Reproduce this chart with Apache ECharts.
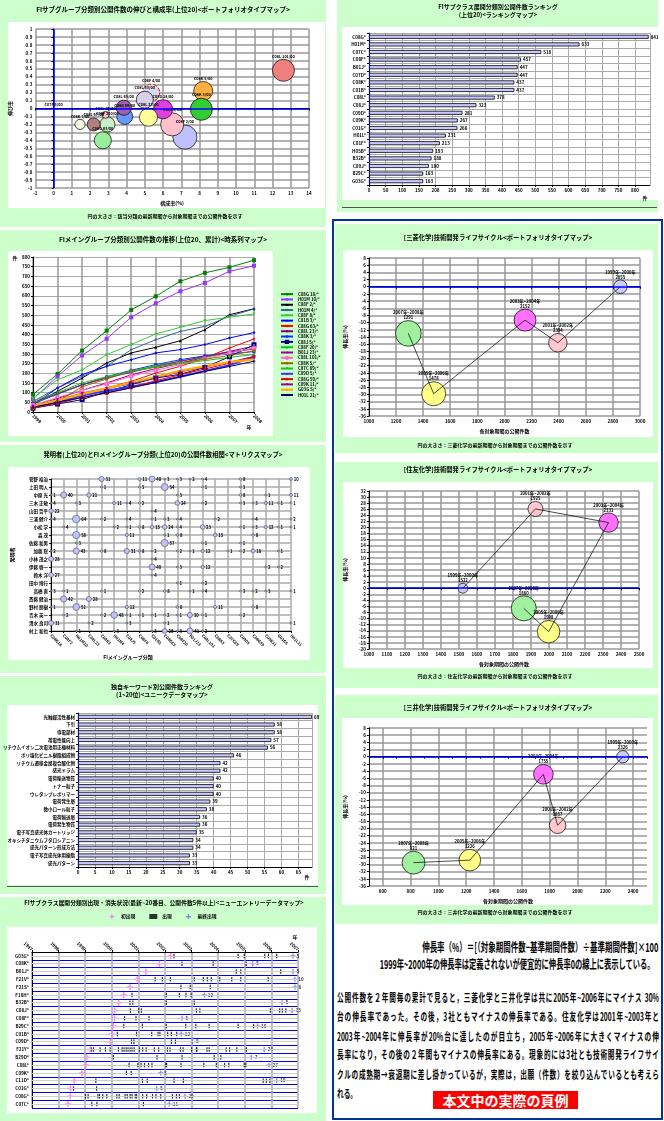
<!DOCTYPE html>
<html><head><meta charset="utf-8">
<script src="https://cdn.jsdelivr.net/npm/echarts@6/dist/echarts.min.js"></script>
<style>
body{margin:0;width:664px;height:1121px;position:relative;background:#fff;overflow:hidden;font-family:"Noto Sans CJK JP",sans-serif;}
.p{position:absolute;background:#ccffcc;}
.w{position:absolute;background:#fff;}
.c{position:absolute;}
.ln{position:absolute;white-space:nowrap;color:#000;}
</style></head><body>
<div style="position:absolute;left:332px;top:219px;width:327px;height:897px;border:2px solid #0033a0;"></div>
<div class="ln" style="right:6px;top:938px;font-size:11px;font-weight:bold;transform-origin:right center;transform:scale(0.68,1.1);">伸長率（%）＝[（対象期間件数−基準期間件数）÷基準期間件数]×100</div>
<div class="ln" style="right:9px;top:955px;font-size:11px;font-weight:bold;transform-origin:right center;transform:scale(0.66,1.1);">1999年~2000年の伸長率は定義されないが便宜的に伸長率0の線上に表示している。</div>
<div id="para" style="position:absolute;left:337px;top:988px;width:460px;font-size:9.5px;font-weight:bold;line-height:16.8px;transform-origin:left top;transform:scale(0.7,1.15);"></div>
<div style="position:absolute;left:433px;top:1091px;width:145px;height:18px;background:#ff0000;color:#fff;font-size:14px;font-weight:bold;line-height:18px;text-align:center;">本文中の実際の頁例</div>
<script>
const F='"Noto Sans CJK JP","Noto Sans",sans-serif';

// ---------- data ----------
const p1Names=["C08L 101/00","C08K 5/00","C08K 3/00","C08F 2/00","C08J 5/00","C08G 18/00","C08L 23/00","C08F 4/00","C08L 33/00","C08G 59/00","C08L 63/00","C08F 220/00","C08G 63/00","C08L 67/00","C08K 7/00","C08L 75/00","C07F 5/00"];
const p1X=[12.6,8.2,8.1,7.2,6.5,6.0,5.2,5.35,5.0,3.9,3.85,2.95,2.7,2.2,1.45,2.85,0.0];
const p1Y=[0.48,0.22,-0.01,-0.36,-0.2,-0.01,-0.11,0.2,0.11,-0.1,0.01,-0.2,-0.4,-0.2,-0.2,-0.08,0.0];
const p1Count=[400,300,400,480,440,300,270,240,240,210,190,190,240,140,85,40,3];
const p1Colors=['#f08080','#ffb040','#33cc33','#c0c0ff','#ffc0cc','#e040e0','#ffff99','#d8d8f0','#d8d0e8','#6699ff','#a060b0','#c8f0c8','#99ee99','#b08080','#f8f8e0','#ffc0d0','#ffffff'];

const r1Cats=["C08G*","H01M*","C07C*","C08F*","B01J*","C07D*","C08K*","C01B*","C08L*","C08J*","C09D*","C09K*","C01G*","H01L*","C01F*","H05B*","B32B*","C09J*","B29C*","G03G*"];
const r1Vals=[841,633,518,457,447,447,437,437,378,323,281,267,266,231,213,193,188,180,163,163];

const p2Years=["1999","2000","2001","2002","2003","2004","2005","2006","2007","2008"];
const p2Names=["C08G 18/*","H01M 10/*","C08F 2/*","H01M 4/*","C08F 8/*","C01B 3/*","C08G 63/*","C08L 23/*","C08K 3/*","C08J 5/*","C08F 20/*","B01J 23/*","C08L 101/*","C08K 5/*","C07C 69/*","C09D 5/*","C08G 59/*","C09K 11/*","G03G 5/*","H01L 21/*"];
const p2Vals=[
[90,196,317,420,527,597,675,718,747,783],
[67,184,292,378,489,561,623,666,726,755],
[38,107,175,253,305,334,368,425,502,533],
[55,124,184,236,322,373,416,442,494,532],
[72,167,217,296,348,403,437,472,489,506],
[38,124,193,236,270,305,322,348,382,410],
[29,58,98,124,158,201,236,279,330,377],
[32,70,112,150,192,224,252,283,313,340],
[42,92,140,182,215,245,270,290,300,312],
[20,41,64,105,141,175,195,230,285,347],
[45,95,140,180,210,240,262,283,305,330],
[50,95,140,175,205,235,262,288,310,325],
[35,75,112,145,185,215,245,275,305,330],
[18,55,130,170,212,232,255,272,292,316],
[58,100,150,182,210,232,250,265,282,297],
[25,50,85,110,130,155,182,212,242,283],
[20,45,75,97,125,162,192,222,252,287],
[30,65,95,120,147,177,207,232,257,287],
[30,60,92,122,152,182,212,237,257,272],
[25,50,75,100,125,152,182,210,235,262]];

const p3Rows=["菅野 裕治","上田 明人","中原 光","三木 正敏","山田 哲平","三浦 健介","小松 学","森 茂","佐藤 和男","加藤 聡","小林 茂之","伊藤 啓一","鈴木 洋","田中 博行","高橋 直","斎藤 健治","野村 朋樹","青木 英一","清水 良司","村上 和也"];
const p3Cols=["C08G18","C08F2","H01M10","C08L23","C08K3","H01M4","C08J5","C08F8","C01B3","C08G63","C08F20","B01J23","C08L101","C08K5","C07C69","C09D5","C08G59","C09K11","G03G5","H01L21"];
const p3Data=[[4,0,31],[7,0,11],[8,0,40],[9,0,3],[10,0,3],[11,0,2],[12,0,4],[15,0,8],[19,0,10],
[4,1,1],[7,1,3],[9,1,54],[12,1,1],[15,1,3],
[0,2,1],[1,2,40],[3,2,21],[10,2,3],[15,2,8],[17,2,1],[19,2,11],
[0,3,4],[2,3,3],[5,3,11],[6,3,4],[7,3,2],[10,3,24],[12,3,2],[15,3,3],[16,3,3],[17,3,11],[18,3,1],[19,3,1],
[0,4,22],[8,4,4],
[0,5,4],[2,5,64],[4,5,2],[6,5,4],[8,5,1],[9,5,3],[10,5,4],[13,5,2],[16,5,4],[19,5,2],
[1,6,4],[5,6,2],[6,6,1],[7,6,8],[8,6,15],[9,6,24],[10,6,4],[12,6,23],[15,6,1],[16,6,3],[17,6,12],[18,6,1],[19,6,1],
[2,7,58],[6,7,11],[9,7,1],[10,7,8],[13,7,15],[16,7,8],
[2,8,3],[9,8,57],[12,8,1],[15,8,1],
[0,9,2],[2,9,43],[4,9,8],[6,9,31],[7,9,8],[8,9,2],[10,9,2],[11,9,1],[12,9,12],[14,9,1],[15,9,2],[16,9,18],[18,9,1],
[0,10,28],[8,10,4],
[8,11,40],[10,11,3],[12,11,12],[17,11,2],[18,11,2],
[0,12,27],[8,12,4],
[10,13,1],[12,13,2],
[0,14,3],[1,14,1],[4,14,1],[7,14,2],[9,14,8],[11,14,1],[12,14,4],[15,14,3],[16,14,2],[17,14,3],[19,14,1],
[1,15,42],[3,15,28],
[0,16,1],[2,16,51],[6,16,12],[10,16,8],[13,16,11],[16,16,8],
[1,17,2],[4,17,2],[5,17,48],[6,17,1],[7,17,1],[8,17,1],[9,17,2],[10,17,1],[11,17,30],[12,17,1],[15,17,2],
[0,18,31],[3,18,2],[6,18,3],[9,18,1],[19,18,1],
[2,19,1],[5,19,3],[8,19,3],[9,19,28],[10,19,3],[11,19,41],[12,19,2]];

const p4Cats=["光触媒活性基材","下引","導電部材","帯電性能向上","リチウムイオン二次電池用正極材料","ポリ塩化ビニル樹脂組成物","リチウム遷移金属複合酸化物","感光ドラム","電荷輸送物質","トナー粒子","ウレタンプレポリマー","電荷発生層","微小ロール粒子","電荷輸送層","電荷発生物質","電子写真感光体カートリッジ","オキシチタニウムフタロシアニン","感光パターン形成方法","電子写真感光体用樹脂","感光パターン"];
const p4Vals=[69,58,58,57,56,46,42,42,40,40,40,39,38,36,36,35,34,34,33,33];

const tlCats=["G03G*","C08K*","B01J*","F21V*","F21S*","F16H*","B32B*","C08J*","C08F*","B29C*","C01B*","C09D*","F21Y*","B29D*","C08L*","C09K*","C11D*","C01G*","C08G*","C07C*"];
const tlFirst=[2002.21,2001.79,2001.28,2000.96,2000.69,2000.45,2000.26,2000.11,2000.1,2000.05,2000.01,1999.94,1999.19,1999.06,1999.03,1998.88,1998.59,1998.45,1998.44,1998.35];
const tlTicks=[
[2002.34,2004.75,2004.98,2005.75,2005.89,2006.2],
[2002.64,2003.81,2005.05],
[2004.68,2004.85,2006.35],
[2001.63,2001.9,2002.2,2003.1,2003.44,2003.59,2003.74,2004.06,2004.51,2004.85,2005.88],
[2002.6,2002.95,2003.7],
[2000.76,2002.05,2002.54,2002.79,2002.98],
[2000.68,2000.79,2002.05,2003.1],
[2000.7,2001.01,2001.11,2003.18,2003.31,2005.96,2006.31,2006.41,2006.54],
[2000.48,2000.91,2001.4],
[2000.45,2001.15,2002.05,2002.78,2003.16,2003.66,2004.75,2005.33],
[2000.21,2000.93,2001.5,2001.74,2001.81,2002.1,2002.24,2002.44],
[2000.74,2000.83,2002.24,2002.39],
[1999.23,1999.31,1999.56,1999.76,1999.94,2000.25,2000.39,2000.46,2000.54,2000.61,2000.69,2000.76,2000.84,2001.04,2001.16,2001.29,2001.6,2001.76,2002.09,2002.19,2002.58,2002.68,2003.0,2003.18,2003.2,2003.58,2003.66,2004.3,2004.43,2004.7,2005.06],
[2000.06,2001.7,2002.64,2003.85,2004.1],
[2000.65,2000.98,2001.1,2001.23,2001.38,2001.51,2002.03,2002.06,2002.6,2003.46,2003.93,2004.24,2004.4,2004.98,2005.04],
[2000.55,2000.73],
[1999.4,2001.15,2001.33,2002.34,2002.69,2005.69,2005.81,2005.94],
[1998.56,1999.43],
[1999.01,1999.11,1999.48,1999.54,1999.66,1999.81,2000.19,2000.28,2000.5,2000.58,2000.69,2000.76,2000.88,2000.93,2001.16,2001.31,2001.53,2001.66,2001.84,2002.28,2002.43,2002.54],
[1999.25,1999.44,2001.19]];
const tlLast=[2006.81,2005.3,2006.81,2006.88,2006.89,2003.48,2006.4,2006.78,2002.64,2005.48,2002.61,2003.03,2005.73,2005.24,2005.91,2001.84,2006.2,2001.69,2002.75,2002.16];
const tlCount=[8,5,8,10,8,12,8,13,5,10,12,8,24,7,27,5,10,5,20,11];

const lifePeriods=["1999年~2000年","2001年~2002年","2003年~2004年","2005年~2006年","2007年~2008年"];
const b1X=[2855,2394,2152,1478,1291], b1Y=[0,-15.6,-9.3,-29.8,-13.0];
const b2X=[1522,1925,2331,1998,1860], b2Y=[0,26.1,21.6,-14.3,-6.6];
const b3X=[2326,1857,1755,1226,821], b3Y=[0,-19.1,-4.9,-28.8,-29.5];
const lifeColors=['#ccccff','#ffc8d0','#ff70ff','#ffff88','#a0f0a0'];

const paraLines=["公開件数を２年間毎の累計で見ると，三菱化学と三井化学は共に2005年~2006年にマイナス 30%","台の伸長率であった。その後，3社ともマイナスの伸長率である。住友化学は2001年~2003年と","2003年~2004年に伸長率が20%台に達したのが目立ち，2005年~2006年に大きくマイナスの伸","長率になり，その後の２年間もマイナスの伸長率にある。現象的には3社とも技術開発ライフサイ","クルの成熟期→衰退期に差し掛かっているが，実際は，出願（件数）を絞り込んでいるとも考えら","れる。"];

// ---------- helpers ----------
document.getElementById('para').innerHTML=paraLines.map((l,i)=>`<div style="white-space:nowrap;text-align:${i<paraLines.length-1?'justify':'left'};text-align-last:${i<paraLines.length-1?'justify':'left'};">${l}</div>`).join('');

function panel(x,y,w,h,wx,wy,ww,wh){
  const p=document.createElement('div');p.className='p';p.style.cssText=`left:${x}px;top:${y}px;width:${w}px;height:${h}px`;document.body.appendChild(p);
  const wd=document.createElement('div');wd.className='w';wd.style.cssText=`left:${wx}px;top:${wy}px;width:${ww}px;height:${wh}px`;document.body.appendChild(wd);
  const c=document.createElement('div');c.className='c';c.style.cssText=`left:${x}px;top:${y}px;width:${w}px;height:${h}px`;document.body.appendChild(c);
  return {ch:echarts.init(c,null,{renderer:'canvas'}),x,y,w,h,
    grid:(L,T,R,B)=>({left:L-x,top:T-y,right:x+w-R,bottom:y+h-B})};
}
function hline(x,y,w,color){const d=document.createElement('div');d.style.cssText=`position:absolute;left:${x}px;top:${y}px;width:${w}px;height:1px;background:${color}`;document.body.appendChild(d);}
function gt(P,text,cx,cy,size,opt){return {type:'text',x:cx-P.x,y:cy-P.y,silent:true,z:100,style:Object.assign({text,fontSize:size,fontWeight:'bold',fontFamily:F,fill:'#000',align:'center',verticalAlign:'middle'},opt||{})};}
const AL={fontSize:4.5,color:'#000',fontWeight:'bold',fontFamily:F};
const axLine={show:true,lineStyle:{color:'#000',width:1}};
const tick={show:true,length:2,lineStyle:{color:'#000'}};
const plusPath='path://M3,0h2v3h3v2h-3v3h-2v-3h-3v-2h3z';

// ---------- P1 bubble ----------
const P1=panel(0,0,326,227,8,22,317,186);
P1.ch.setOption({animation:false,textStyle:{fontFamily:F},
  grid:P1.grid(32,29,309,188),
  graphic:[gt(P1,'FIサブグループ分類別公開件数の伸びと構成率(上位20)<ポートフォリオタイプマップ>',163,10,6.5),
           gt(P1,'円の大きさ：該当分類の最新期間から対象期間までの公開件数を示す',165,216,5)],
  xAxis:{type:'value',min:-1,max:14,interval:1,name:'構成率(%)',nameLocation:'middle',nameGap:7,nameTextStyle:{fontSize:5,fontWeight:'bold'},
    axisLine:axLine,axisTick:tick,axisLabel:Object.assign({margin:3},AL),splitLine:{lineStyle:{color:'#999',width:1.5}}},
  yAxis:{type:'value',min:-1,max:1,interval:0.1,name:'伸び率',nameLocation:'middle',nameGap:15,nameRotate:90,nameTextStyle:{fontSize:5,fontWeight:'bold'},
    axisLine:axLine,axisTick:tick,axisLabel:Object.assign({margin:3,formatter:v=>String(Math.round(v*10)/10)},AL),splitLine:{lineStyle:{color:'#999',width:1.5}}},
  series:[{type:'scatter',
    data:p1Names.map((n,i)=>({name:n,value:[p1X[i],p1Y[i],p1Count[i]],itemStyle:i===7?{color:p1Colors[i],borderColor:'#e00000',borderType:'dashed',borderWidth:1}:{color:p1Colors[i]}})),
    symbolSize:v=>Math.max(2,Math.sqrt(v[2])*1.1),
    itemStyle:{borderColor:'#000',borderWidth:0.7,opacity:1},
    label:{show:true,formatter:'{b}',position:'top',distance:1,fontSize:3.8,fontWeight:'bold',color:'#000'},
    markLine:{silent:true,symbol:'none',label:{show:false},lineStyle:{color:'#0000ff',width:1.5,type:'solid'},data:[{xAxis:0},{yAxis:0}]}}]
});

// ---------- R1 bar ranking ----------
function barOpt(P,cats,vals,max,interval,G,unitPos,titleLines){
  return {animation:false,textStyle:{fontFamily:F},grid:P.grid(...G),
    graphic:[...titleLines,gt(P,'件',unitPos[0],unitPos[1],5)],
    xAxis:{type:'value',min:0,max,interval,axisLine:axLine,axisTick:tick,axisLabel:Object.assign({margin:3,showMaxLabel:false},AL),splitLine:{lineStyle:{color:'#aaa',width:1}}},
    yAxis:{type:'category',data:cats,inverse:true,axisLine:{show:true,lineStyle:{color:'#0000aa',width:1.2}},axisTick:tick,axisLabel:Object.assign({margin:3},AL),splitLine:{show:true,lineStyle:{color:'#aaa'}}},
    series:[{type:'bar',data:vals,barWidth:4,itemStyle:{color:'#c8c8ff',borderColor:'#000',borderWidth:0.8},
      label:{show:true,position:'right',distance:2,fontSize:4.5,color:'#000',fontWeight:'bold'}}]};
}
const R1=panel(337,0,321,212,342,27,316,173);
hline(342,207,315,'#555');
R1.ch.setOption(barOpt(R1,r1Cats,r1Vals,845,50,[369,33,650,185],[645,198],
  [gt(R1,'FIサブクラス展開分類別公開件数ランキング',498,7,6),gt(R1,'(上位20)<ランキングマップ>',498,15,6)]));

// ---------- P2 line ----------
const p2Colors=['#008000','#9933ff','#000000','#336699','#33cc33','#0000ff','#ff0000','#800080','#0033ff','#000080','#00cc00','#990099','#ff66cc','#996600','#22bb22','#3333ff','#ee0000','#990099','#ffaa00','#000066'];
const p2Sym=['rect','rect','triangle',plusPath,'triangle','diamond',plusPath,'none','rect','emptyRect','triangle',plusPath,'emptyCircle','rect','triangle','triangle','rect','triangle','none',plusPath];
const p2Rot=[0,0,0,0,180,0,0,0,0,0,0,0,0,0,180,0,0,180,0,0];
const p2W=[1,1,1,1,1,1,1,1,1,1,1,1,1,1,1,2,1,1,2.2,1];
const P2=panel(0,230,326,212,8,251,265,185);
P2.ch.setOption({animation:false,textStyle:{fontFamily:F},
  grid:P2.grid(33,257,254,412),
  graphic:[gt(P2,'FIメイングループ分類別公開件数の推移(上位20、累計)<時系列マップ>',163,240,6.5),gt(P2,'件',15,258,5),gt(P2,'年',249,427,5)],
  legend:{orient:'vertical',left:280,top:62,padding:0,itemWidth:12,itemHeight:3,itemGap:1,textStyle:{fontSize:4.3,fontWeight:'bold',lineHeight:4,color:'#000'},data:p2Names},
  xAxis:{type:'category',data:p2Years,boundaryGap:false,axisLine:axLine,axisTick:tick,axisLabel:Object.assign({rotate:-45,margin:3},AL),splitLine:{show:true,lineStyle:{color:'#999',width:1.5}}},
  yAxis:{type:'value',min:0,max:800,interval:50,axisLine:axLine,axisTick:tick,axisLabel:Object.assign({margin:3},AL),splitLine:{lineStyle:{color:'#aaa',width:1}}},
  series:p2Names.map((n,i)=>({type:'line',name:n,data:p2Vals[i],symbol:p2Sym[i],symbolRotate:p2Rot[i],symbolSize:i<2?4:3,
    lineStyle:{color:p2Colors[i],width:p2W[i]},itemStyle:{color:p2Colors[i]}}))
});

// ---------- P3 matrix ----------
const P3=panel(0,445,326,228,8,467,302,193);
P3.ch.setOption({animation:false,textStyle:{fontFamily:F},
  grid:P3.grid(51,479,291,631),
  graphic:[gt(P3,'発明者(上位20)とFIメイングループ分類(上位20)の公開件数相関<マトリクスマップ>',163,455,6.3),gt(P3,'FIメイングループ分類',128,657,5)],
  xAxis:{type:'category',data:p3Cols,boundaryGap:false,axisLine:axLine,axisTick:tick,axisLabel:Object.assign({rotate:-45,margin:4,interval:0},AL,{fontSize:4}),splitLine:{show:true,lineStyle:{color:'#aaa',width:1.5}}},
  yAxis:{type:'category',data:p3Rows,inverse:true,boundaryGap:false,name:'発明者',nameLocation:'middle',nameGap:36,nameRotate:90,nameTextStyle:{fontSize:5,fontWeight:'bold'},
    axisLine:axLine,axisTick:tick,axisLabel:Object.assign({margin:3,interval:0},AL),splitLine:{show:true,lineStyle:{color:'#aaa',width:1.5}}},
  series:[{type:'scatter',data:p3Data,symbolSize:v=>Math.max(2,Math.sqrt(v[2])*0.95),
    itemStyle:{color:'#c0c0ff',borderColor:'#333',borderWidth:0.5,opacity:1},
    label:{show:true,position:'right',distance:1,fontSize:4.2,fontWeight:'bold',color:'#000',formatter:p=>p.data[2]}}]
});

// ---------- P4 bar ----------
const P4=panel(0,676,326,218,7,705,311,180);
hline(7,886,311,'#555');
P4.ch.setOption(barOpt(P4,p4Cats,p4Vals,69,5,[77,713,312,867],[307,877],
  [gt(P4,'独自キーワード別公開件数ランキング',162,687,6),gt(P4,'(1~20位)<ユニークデータマップ>',162,695,6)]));

// ---------- P5 timeline ----------
const P5=panel(0,897,326,224,7,927,310,186);
const tickData=[];tlTicks.forEach((arr,i)=>arr.forEach(v=>tickData.push([v,i])));
P5.ch.setOption({animation:false,textStyle:{fontFamily:F},
  grid:P5.grid(32,952,298,1108),
  graphic:[gt(P5,'FIサブクラス展開分類別出現・消失状況(最新~20番目、公開件数5件以上)<ニューエントリーデータマップ>',164,903,5.8),gt(P5,'年',295,937,5)],
  legend:{top:17,left:'center',padding:0,itemWidth:8,itemHeight:5,itemGap:14,textStyle:{fontSize:4.8,fontWeight:'bold',color:'#000'},data:['初出現','出現','最終出現']},
  xAxis:{type:'value',position:'top',min:1997,max:2007,interval:1,axisLine:axLine,axisTick:tick,axisLabel:Object.assign({rotate:45,margin:2,formatter:v=>String(v)},AL),splitLine:{lineStyle:{color:'#aaa',width:1.5}}},
  yAxis:{type:'category',data:tlCats,inverse:true,axisLine:axLine,axisTick:{show:false},axisLabel:Object.assign({margin:3},AL),splitLine:{show:true,lineStyle:{color:'#0000ff',width:1.2}}},
  series:[
    {name:'出現',type:'scatter',data:tickData,symbol:'rect',symbolSize:[1.2,4.5],itemStyle:{color:'#000'},z:3,
     markLine:{silent:true,symbol:'none',label:{show:false},lineStyle:{color:'#cccccc',width:1,type:'solid'},data:tlCats.map(c=>({yAxis:c}))}},
    {name:'初出現',type:'scatter',data:tlFirst.map((v,i)=>[v,i]),symbol:plusPath,symbolSize:6,itemStyle:{color:'#ff66ff'},z:4},
    {name:'最終出現',type:'scatter',data:tlLast.map((v,i)=>[v,i,tlCount[i]]),symbol:plusPath,symbolSize:5,itemStyle:{color:'#6666ee'},z:4,
     label:{show:true,position:'right',distance:1,fontSize:4.5,fontWeight:'bold',color:'#000',formatter:p=>p.data[2]}}]
});

// ---------- life cycle bubbles ----------
function life(P,title,foot,xs,ys,xmin,xmax,xint,ymin,ymax,yint,G,every2,tY,fY){
  let cum=0;const cums=xs.map(v=>(cum+=v));
  return {animation:false,textStyle:{fontFamily:F},grid:P.grid(...G),
    graphic:[gt(P,title,498,tY,6.3),gt(P,foot,495,fY,5)],
    xAxis:{type:'value',min:xmin,max:xmax,interval:xint,name:'各対象期間の公開件数',nameLocation:'middle',nameGap:8,nameTextStyle:{fontSize:5,fontWeight:'bold'},
      axisLine:axLine,axisTick:tick,axisLabel:Object.assign({margin:3,formatter:v=>every2?(v%200===0?String(v):''):String(v)},AL),
      splitLine:{lineStyle:{color:every2?['rgba(0,0,0,0)','#999']:'#999',width:1.5}}},
    yAxis:{type:'value',min:ymin,max:ymax,interval:yint,name:'伸長率(%)',nameLocation:'middle',nameGap:14,nameRotate:90,nameTextStyle:{fontSize:5,fontWeight:'bold'},
      axisLine:axLine,axisTick:tick,axisLabel:Object.assign({margin:3},AL),splitLine:{lineStyle:{color:'#999',width:1.5}}},
    series:[
      {type:'line',data:xs.map((x,i)=>[x,ys[i]]),symbol:'none',lineStyle:{color:'#000',width:0.7},z:3,
       markLine:{silent:true,symbol:'none',label:{show:false},lineStyle:{color:'#0000ff',width:1.5,type:'solid'},data:[{yAxis:0}]}},
      {type:'scatter',data:lifePeriods.map((p,i)=>({name:p,value:[xs[i],ys[i],cums[i]],itemStyle:{color:lifeColors[i]}})),
       symbolSize:v=>Math.sqrt(v[2])*0.255,z:2,itemStyle:{borderColor:'#000',borderWidth:0.7,opacity:1},
       label:{show:true,position:'top',distance:0,fontSize:4.2,fontWeight:'bold',color:'#000',lineHeight:5,formatter:p=>p.name+'\n'+p.value[0]}}]};
}
const B1=panel(335,224,323,229,343,250,310,187);
B1.ch.setOption(life(B1,'[三菱化学]技術開発ライフサイクル<ポートフォリオタイプマップ>','円の大きさ：三菱化学の最新期間から対象期間までの公開件数を示す',
  b1X,b1Y,1000,3000,200,-36,8,2,[365,258,640,416],false,238,445));
const B2=panel(335,462,323,226,343,482,310,186);
B2.ch.setOption(life(B2,'[住友化学]技術開発ライフサイクル<ポートフォリオタイプマップ>','円の大きさ：住友化学の最新期間から対象期間までの公開件数を示す',
  b2X,b2Y,1000,2500,100,-20,32,2,[364,491,639,649],false,470,676));
const B3=panel(335,695,323,229,342,718,311,187);
B3.ch.setOption(life(B3,'[三井化学]技術開発ライフサイクル<ポートフォリオタイプマップ>','円の大きさ：三井化学の最新期間から対象期間までの公開件数を示す',
  b3X,b3Y,500,2500,100,-36,8,2,[365,728,647,886],true,708,912));
</script>
</body></html>
